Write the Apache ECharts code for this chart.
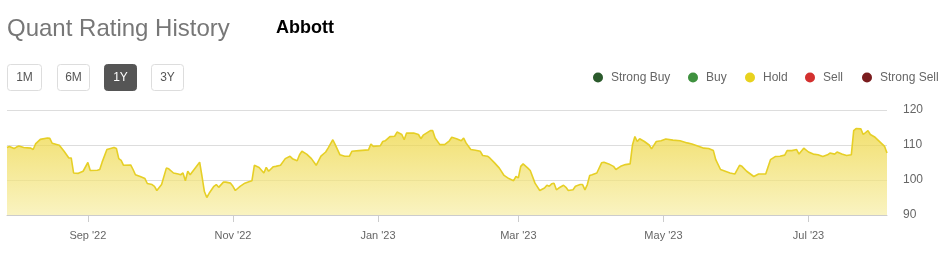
<!DOCTYPE html>
<html><head><meta charset="utf-8">
<script src="https://cdn.jsdelivr.net/npm/echarts@6/dist/echarts.min.js"></script>
<style>html,body{margin:0;padding:0;background:#fff}#c{width:945px;height:256px}</style>
</head><body><div id="c"></div><script>
const dates = [
'2022-07-29','2022-07-30','2022-08-01','2022-08-02','2022-08-03','2022-08-05','2022-08-08','2022-08-09','2022-08-10','2022-08-12',
'2022-08-15','2022-08-16','2022-08-17','2022-08-20','2022-08-22','2022-08-24','2022-08-25','2022-08-26','2022-08-28','2022-08-30',
'2022-09-01','2022-09-02','2022-09-05','2022-09-06','2022-09-07','2022-09-09','2022-09-12','2022-09-13','2022-09-14','2022-09-15',
'2022-09-16','2022-09-19','2022-09-20','2022-09-21','2022-09-23','2022-09-25','2022-09-26','2022-09-28','2022-09-29','2022-09-30',
'2022-10-02','2022-10-04','2022-10-05','2022-10-07','2022-10-09','2022-10-10','2022-10-11','2022-10-12','2022-10-13','2022-10-14',
'2022-10-18','2022-10-19','2022-10-20','2022-10-21','2022-10-22','2022-10-24','2022-10-25','2022-10-26','2022-10-28','2022-10-29',
'2022-10-31','2022-11-01','2022-11-02','2022-11-04','2022-11-06','2022-11-08','2022-11-09','2022-11-10','2022-11-12','2022-11-14',
'2022-11-15','2022-11-16','2022-11-18','2022-11-19','2022-11-21','2022-11-23','2022-11-25','2022-11-26','2022-11-28','2022-11-29',
'2022-11-30','2022-12-02','2022-12-04','2022-12-06','2022-12-08','2022-12-10','2022-12-11','2022-12-12','2022-12-13','2022-12-14',
'2022-12-16','2022-12-18','2022-12-20','2022-12-21','2022-12-24','2022-12-28','2022-12-29','2022-12-30',
'2023-01-02','2023-01-03','2023-01-04','2023-01-06','2023-01-08','2023-01-09','2023-01-11','2023-01-12','2023-01-13','2023-01-16',
'2023-01-18','2023-01-19','2023-01-20','2023-01-23','2023-01-24','2023-01-25','2023-01-27','2023-01-29','2023-01-31','2023-02-01',
'2023-02-03','2023-02-05','2023-02-06','2023-02-07','2023-02-09','2023-02-11','2023-02-13','2023-02-14','2023-02-16','2023-02-17',
'2023-02-19','2023-02-21','2023-02-23','2023-02-25','2023-02-27','2023-02-28','2023-03-01','2023-03-02','2023-03-03','2023-03-05',
'2023-03-06','2023-03-08','2023-03-10','2023-03-12','2023-03-13','2023-03-14','2023-03-15','2023-03-16','2023-03-17','2023-03-18',
'2023-03-20','2023-03-21','2023-03-22','2023-03-24','2023-03-25','2023-03-27','2023-03-28','2023-03-29','2023-03-30','2023-03-31',
'2023-04-01','2023-04-03','2023-04-05','2023-04-06','2023-04-08','2023-04-10','2023-04-11','2023-04-13','2023-04-15','2023-04-17',
'2023-04-18','2023-04-19','2023-04-20','2023-04-21','2023-04-23','2023-04-25','2023-04-26','2023-04-28','2023-04-30','2023-05-02',
'2023-05-05','2023-05-08','2023-05-11','2023-05-13','2023-05-16','2023-05-18','2023-05-20','2023-05-22','2023-05-23','2023-05-25',
'2023-05-27','2023-05-29','2023-05-31','2023-06-02','2023-06-03','2023-06-05','2023-06-08','2023-06-10','2023-06-13','2023-06-15',
'2023-06-17','2023-06-19','2023-06-21','2023-06-22','2023-06-24','2023-06-26','2023-06-27','2023-06-29','2023-07-01','2023-07-03',
'2023-07-05','2023-07-07','2023-07-09','2023-07-10','2023-07-12','2023-07-13','2023-07-15','2023-07-17','2023-07-19','2023-07-20',
'2023-07-21','2023-07-23','2023-07-24','2023-07-26','2023-07-27','2023-07-29','2023-07-31','2023-08-02','2023-08-03'
];
const ratings = [
109.3,109.6,109.0,109.4,109.7,109.3,109.1,108.7,110.3,111.6,
112.0,111.9,110.5,109.9,108.2,106.3,106.3,102.0,101.9,102.5,
105.0,102.7,102.8,103.0,105.1,108.7,109.3,109.0,106.1,105.6,
104.2,104.3,103.0,101.5,101.0,100.4,99.0,98.7,98.2,97.0,
98.7,103.4,103.2,102.0,101.7,101.5,102.0,99.8,102.5,101.5,
105.1,101.0,96.7,95.0,96.2,98.2,98.7,97.9,99.4,99.4,
99.1,98.2,97.0,98.2,99.1,99.6,99.8,104.2,103.6,102.0,
103.6,102.5,103.8,103.9,104.2,106.1,106.8,106.1,105.5,107.2,
108.2,107.4,106.1,104.2,106.8,108.0,109.1,110.3,111.5,110.1,
107.2,106.8,106.8,108.2,108.4,108.6,110.3,109.6,
109.8,111.0,111.2,112.4,112.5,113.7,113.0,111.5,113.4,113.4,
113.0,111.8,112.8,114.1,114.1,112.0,110.1,110.1,111.2,112.2,
111.8,111.2,112.0,110.6,108.7,108.5,108.2,107.0,106.8,106.3,
104.9,103.4,101.3,100.4,99.8,101.0,100.6,103.9,104.6,103.4,
102.7,99.1,97.0,97.7,98.5,98.2,98.9,99.1,97.2,97.7,
98.5,97.9,97.0,97.2,98.2,98.7,98.7,97.2,98.7,101.3,
101.5,102.0,104.9,105.1,104.6,103.9,103.0,103.9,104.4,104.6,
110.1,112.4,111.0,111.8,111.0,110.0,108.9,111.0,111.2,111.7,
111.4,111.2,110.6,110.3,109.6,109.1,109.0,108.4,105.8,103.0,
102.5,102.0,101.7,104.2,103.9,102.5,101.0,101.7,101.7,105.8,
106.7,106.8,107.1,108.4,108.4,108.7,107.4,109.1,108.0,107.4,
107.2,106.7,107.2,107.7,107.4,108.0,107.4,107.0,107.2,114.1,
114.7,114.6,113.0,114.1,113.0,112.2,110.9,109.6,107.7
];
const yTicks = [90, 100, 110, 120];
const xTickDates = ['2022-09-01', '2022-11-01', '2023-01-01', '2023-03-01', '2023-05-01', '2023-07-01'];
const xRange = ['2022-07-29', '2023-08-03'];
const rangeButtons = ['1M', '6M', '1Y', '3Y'];
const selectedRange = '1Y';
const ratingNames = ['Strong Buy', 'Buy', 'Hold', 'Sell', 'Strong Sell'];
const ratingColors = ['#2b5a2c', '#3f913f', '#e8d21e', '#d3302f', '#7a1c1e'];
const chartTitle = 'Quant Rating History';
const company = 'Abbott';

const monNames = ['Jan','Feb','Mar','Apr','May','Jun','Jul','Aug','Sep','Oct','Nov','Dec'];
const toTs = s => { const p = s.split('-').map(Number); return Date.UTC(p[0], p[1] - 1, p[2]); };
const tickValues = xTickDates.map(toTs);
const seriesData = dates.map((d, i) => [toTs(d), ratings[i]]);

const FONT = '"Liberation Sans", Arial, sans-serif';
const btnX = [7, 57, 104, 151];
const btnW = [34, 32, 32, 32];
const graphics = [];
graphics.push({type:'text', left:276, top:19, style:{text:company, font:'bold 18px ' + FONT, fill:'#000'}});
rangeButtons.forEach((b, i) => {
  const sel = b === selectedRange;
  graphics.push({type:'rect', shape:{x:btnX[i]+0.5, y:64.5, width:btnW[i], height:26, r:3},
    style:{fill: sel ? '#555' : '#fff', stroke: sel ? '#555' : '#ddd', lineWidth:1}});
  graphics.push({type:'text', x:btnX[i] + btnW[i]/2 + 0.5, y:78, style:{text:b, font:'12px ' + FONT,
    fill: sel ? '#fff' : '#555', align:'center', verticalAlign:'middle'}});
});
const legX = [598, 693, 750, 810, 867];
ratingNames.forEach((n, i) => {
  graphics.push({type:'circle', shape:{cx:legX[i], cy:77.5, r:5}, style:{fill:ratingColors[i]}});
  graphics.push({type:'text', x:legX[i] + 13, y:77.5, style:{text:n, font:'12px ' + FONT, fill:'#666', verticalAlign:'middle'}});
});

const chart = echarts.init(document.getElementById('c'), null, {renderer:'canvas'});
chart.setOption({
  animation: false,
  backgroundColor: '#fff',
  title: {text: chartTitle, left: 7, top: 17, padding: 0,
    textStyle: {fontSize: 24, fontWeight: 'normal', color: '#777', fontFamily: FONT}},
  grid: {left: 7, right: 58, top: 110, bottom: 41},
  xAxis: {
    type: 'value',
    min: toTs(xRange[0]), max: toTs(xRange[1]),
    axisLine: {show: true, lineStyle: {color: '#ccc'}},
    axisTick: {show: true, length: 7, lineStyle: {color: '#ccc'}, customValues: tickValues},
    axisLabel: {customValues: tickValues, color: '#666', fontSize: 11, fontFamily: FONT, margin: 15,
      formatter: v => { const d = new Date(v); return monNames[d.getUTCMonth()] + " '" + String(d.getUTCFullYear()).slice(2); }},
    splitLine: {show: false}
  },
  yAxis: {
    type: 'value', position: 'right',
    min: yTicks[0], max: yTicks[yTicks.length - 1], interval: 10,
    axisLine: {show: false}, axisTick: {show: false},
    axisLabel: {color: '#666', fontSize: 12, fontFamily: FONT, margin: 16},
    splitLine: {lineStyle: {color: '#ddd'}}
  },
  series: [{
    name: 'Hold', type: 'line', data: seriesData, showSymbol: false, symbol: 'none',
    lineStyle: {color: '#e6cf26', width: 1.6},
    areaStyle: {color: new echarts.graphic.LinearGradient(0, 0, 0, 1, [
      {offset: 0, color: '#ecd334'}, {offset: 1, color: '#f7eea6'}])}
  }],
  graphic: graphics
});
</script></body></html>
